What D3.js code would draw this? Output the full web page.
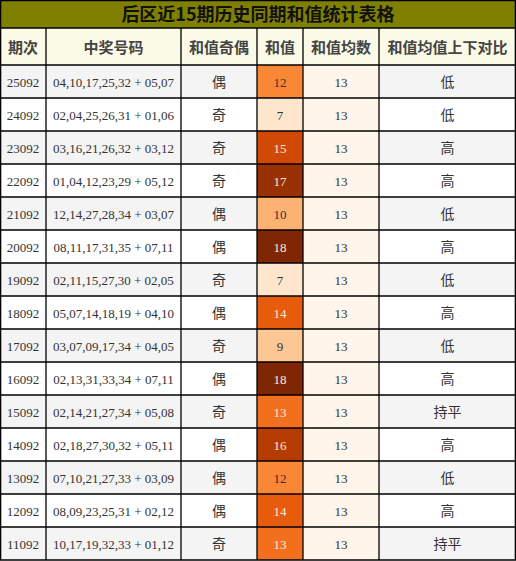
<!DOCTYPE html><html><head><meta charset="utf-8"><script src="https://d3js.org/d3.v7.min.js"></script>
<style>body{margin:0;background:#fff}</style></head><body><svg id="c" width="516" height="561"></svg>
<script>
const title="后区近15期历史同期和值统计表格";
const headers=["期次","中奖号码","和值奇偶","和值","和值均数","和值均值上下对比"];
const periods=["25092","24092","23092","22092","21092","20092","19092","18092","17092","16092","15092","14092","13092","12092","11092"];
const numbers=["04,10,17,25,32 + 05,07","02,04,25,26,31 + 01,06","03,16,21,26,32 + 03,12","01,04,12,23,29 + 05,12","12,14,27,28,34 + 03,07","08,11,17,31,35 + 07,11","02,11,15,27,30 + 02,05","05,07,14,18,19 + 04,10","03,07,09,17,34 + 04,05","02,13,31,33,34 + 07,11","02,14,21,27,34 + 05,08","02,18,27,30,32 + 05,11","07,10,21,27,33 + 03,09","08,09,23,25,31 + 02,12","10,17,19,32,33 + 01,12"];
const parity=["偶","奇","奇","奇","偶","偶","奇","偶","奇","偶","奇","偶","偶","偶","奇"];
const sums=[12,7,15,17,10,18,7,14,9,18,13,16,12,14,13];
const avg=[13,13,13,13,13,13,13,13,13,13,13,13,13,13,13];
const compare=["低","低","高","高","低","高","低","高","低","高","持平","高","低","高","持平"];
const svg=d3.select("#c");
const colEdges=[0,46,181,257,303,379,516];
const x=d3.scaleOrdinal().domain(d3.range(6)).range(colEdges.slice(0,6));
const y=d3.scaleBand().domain(d3.range(15)).range([65,560]);
const color=d3.scaleSequential(d3.interpolateOranges).domain([5.5,18]);
const W=i=>colEdges[i+1]-colEdges[i];
// title
svg.append("rect").attr("x",0).attr("y",0).attr("width",516).attr("height",28).attr("fill","#808000");
svg.append("text").attr("x",258).attr("y",21).attr("text-anchor","middle").attr("font-family","Noto Sans CJK SC").attr("font-weight","bold").attr("font-size",18).attr("fill","#111").text(title);
headers.forEach((h,i)=>{
 svg.append("rect").attr("x",x(i)).attr("y",28).attr("width",W(i)).attr("height",37).attr("fill","#fafae6");
 svg.append("text").attr("x",x(i)+W(i)/2).attr("y",53).attr("text-anchor","middle").attr("font-family","Noto Sans CJK SC").attr("font-weight","bold").attr("font-size",15).attr("fill","#444").text(h);
});
const cols=[periods,numbers,parity,sums,avg,compare];
periods.forEach((p,r)=>{
 cols.forEach((arr,c)=>{
  let bg=r%2===0?"#f4f4f4":"#fff";
  if(c===3) bg=color(sums[r]);
  if(c===4) bg="#fff5eb";
  svg.append("rect").attr("x",x(c)).attr("y",y(r)).attr("width",W(c)).attr("height",y.bandwidth()).attr("fill",bg);
  const cjk=(c===2||c===5);
  svg.append("text").attr("x",x(c)+W(c)/2).attr("y",y(r)+y.bandwidth()/2+5)
   .attr("text-anchor","middle").attr("font-family",cjk?"Noto Sans CJK SC":"Liberation Serif")
   .attr("font-size",cjk?14:13)
   .attr("fill",c===3&&sums[r]>=13?"#fde8d8":"#333").text(arr[r]);
 });
});
// grid
const g=svg.append("g").attr("stroke","#000").attr("stroke-width",1.3);
colEdges.forEach(e=>g.append("line").attr("x1",Math.min(Math.max(e,0.65),515.35)).attr("x2",Math.min(Math.max(e,0.65),515.35)).attr("y1",e===0||e===516?0:28).attr("y2",560));
[0.65,28,65].concat(d3.range(1,15).map(r=>y(r)),[560]).forEach(v=>g.append("line").attr("x1",0).attr("x2",516).attr("y1",v).attr("y2",v));
</script></body></html>
